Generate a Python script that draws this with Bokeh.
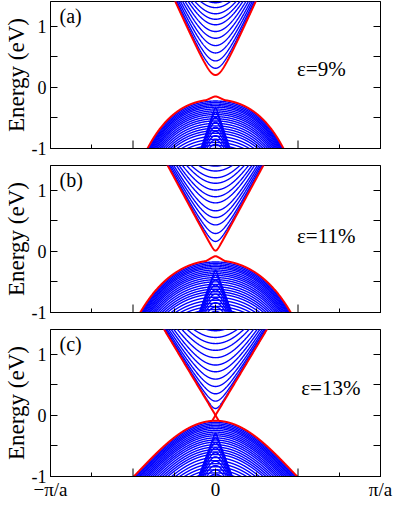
import numpy as np
from bokeh.plotting import figure
from bokeh.models import LinearAxis, FixedTicker, Range1d, Label
from bokeh.layouts import column
from bokeh.embed import file_html
from bokeh.resources import INLINE

# ---------------- data ----------------
panel_tags = ["(a)", "(b)", "(c)"]
strain_text = ["ε=9%", "ε=11%", "ε=13%"]
strain_text_x = [0.494, 0.494, 0.52]      # in units of pi/a
strain_text_y = [0.29, 0.25, 0.445]       # eV (baseline)

x_label_ticks = [-1, 0, 1]
x_tall_ticks = [-0.5, 0, 0.5]
x_short_ticks = [-0.75, -0.25, 0.25, 0.75]
x_tick_labels = {-1: "−π/a", 0: "0", 1: "π/a"}
y_label_ticks = [-1, 0, 1]
y_half_ticks = [-0.5, 0.5]
y_tick_labels = {-1: "-1", 0: "0", 1: "1"}

# conduction sub-band minima at k=0 (eV); first entry = red edge band
cb_min_a = [0.20, 0.31, 0.43, 0.56, 0.68, 0.80, 0.91, 1.02, 1.11, 1.20, 1.30, 1.38, 1.45]
cb_min_b = [0.01, 0.16, 0.29, 0.43, 0.55, 0.66, 0.79, 0.89, 1.00, 1.11, 1.20, 1.31, 1.39]
cb_min_c = [0.00, 0.11, 0.23, 0.35, 0.47, 0.59, 0.71, 0.82, 0.94, 1.06, 1.17, 1.27, 1.38]
cb_offset = [-0.09, -0.05, 0.0]          # asymptote intercept (eV)
cb_slope = [6.0, 5.0, 4.5]               # asymptotic slope (eV per pi/a)
edge_cross = [False, False, True]        # edge states cross at k=0

# valence: broad (outer) bands
vb_top = [-0.20, -0.15, -0.09]
vb_c2 = [3.19, 3.13, 4.62]
vb_c4 = [9.0, 4.6, -3.7]
vb_peak = [-0.15, -0.08, -0.09]
vb_peak_slope = [1.3, 1.6, 0.0]
vb_shift = [0.025, 0.05, 0.075, 0.10, 0.125, 0.155, 0.185, 0.215, 0.245, 0.28,
            0.315, 0.35, 0.39, 0.43, 0.47, 0.51, 0.55, 0.60, 0.65, 0.70, 0.75,
            0.80, 0.85, 0.90]

# valence: steep inner (Lambda-shaped) bands, apex energies at k=0
lam_top = [-0.30, -0.28, -0.27]
lam_slope = [8.0, 7.3, 7.2]
lam_apex = [[-0.33, -0.41, -0.49, -0.57, -0.65, -0.72, -0.79, -0.86, -0.93, -1.0],
            [-0.31, -0.39, -0.47, -0.55, -0.63, -0.70, -0.77, -0.84, -0.91, -0.98],
            [-0.29, -0.37, -0.45, -0.53, -0.61, -0.68, -0.75, -0.82, -0.89, -0.96]]

cb_mins = [cb_min_a, cb_min_b, cb_min_c]

BLUE = "#0000ff"
RED = "#ff0000"
FONT = "Liberation Serif"
FH = 147
Y0, Y1 = -1.0, 1.4

k = np.linspace(-1, 1, 1601)


def make_panel(i, last):
    p = figure(frame_width=330, frame_height=FH, output_backend="svg",
               toolbar_location=None, x_range=Range1d(-1, 1), y_range=Range1d(Y0, Y1),
               min_border_left=40, min_border_right=14, min_border_top=1,
               min_border_bottom=(2 if last else 16))
    p.grid.visible = False
    p.outline_line_color = "black"
    p.outline_line_width = 1
    p.background_fill_color = "white"

    # blue conduction sub-bands
    e0, v = cb_offset[i], cb_slope[i]
    xs, ys = [], []
    for m in cb_mins[i][1:]:
        d = m - e0
        xs.append(k); ys.append(e0 + np.sqrt(d * d + (v * k) ** 2))
    # blue broad valence bands
    broad = vb_top[i] - vb_c2[i] * k ** 2 - vb_c4[i] * k ** 4
    for s in vb_shift:
        xs.append(k); ys.append(broad - s)
    # blue steep valence bands
    for a in lam_apex[i]:
        d = lam_top[i] - a
        xs.append(k); ys.append(lam_top[i] - np.sqrt(d * d + (lam_slope[i] * k) ** 2))
    p.multi_line(xs=xs, ys=ys, line_color=BLUE, line_width=1.4)

    # red edge bands
    rx, ry = [], []
    if edge_cross[i]:
        kk = np.linspace(-0.35, 0.02, 200)
        rx.append(kk); ry.append(-v * kk)
        kk = np.linspace(-0.02, 0.35, 200)
        rx.append(kk); ry.append(v * kk)
        rx.append(k); ry.append(broad)
    else:
        d = cb_mins[i][0] - e0
        rx.append(k); ry.append(e0 + np.sqrt(d * d + (v * k) ** 2))
        r = 0.012
        bump = vb_peak[i] + r - np.sqrt(r * r + (vb_peak_slope[i] * k) ** 2)
        top = np.where(np.abs(k) < 0.08, np.maximum(broad, bump), broad)
        rx.append(k); ry.append(top)
    p.multi_line(xs=rx, ys=ry, line_color=RED, line_width=2)

    # tall inward x ticks (pi/2 multiples) drawn as short segments of 8 px
    tall = [t for t in x_tall_ticks if not (last and t in x_label_ticks)]
    tick_len = 8 * (Y1 - Y0) / FH
    p.segment(x0=tall, y0=[Y0] * len(tall), x1=tall, y1=[Y0 + tick_len] * len(tall),
              line_color="black", line_width=1)

    # bottom axis
    xa = p.xaxis[0]
    xa.axis_line_color = "black"
    xa.minor_tick_in = 4; xa.minor_tick_out = 0
    xa.major_tick_in = 8; xa.major_tick_out = 0
    if last:
        xa.ticker = FixedTicker(ticks=x_label_ticks, minor_ticks=x_short_ticks)
        xa.major_label_overrides = x_tick_labels
        xa.major_label_text_font = FONT
        xa.major_label_text_font_size = "19px"
        xa.major_label_text_color = "black"
        xa.major_label_standoff = 2
    else:
        xa.ticker = FixedTicker(ticks=[], minor_ticks=x_short_ticks)
        xa.major_label_standoff = 0

    # left axis
    ya = p.yaxis[0]
    ya.ticker = FixedTicker(ticks=y_label_ticks, minor_ticks=y_half_ticks)
    ya.major_label_overrides = y_tick_labels
    ya.major_tick_in = 7; ya.major_tick_out = 0
    ya.minor_tick_in = 7; ya.minor_tick_out = 0
    ya.major_label_text_font = FONT
    ya.major_label_text_font_size = "18px"
    ya.major_label_text_color = "black"
    ya.major_label_standoff = 4
    ya.axis_label = "Energy (eV)"
    ya.axis_label_text_font = FONT
    ya.axis_label_text_font_style = "normal"
    ya.axis_label_text_font_size = "23px"
    ya.axis_label_text_color = "black"
    ya.axis_label_standoff = 0

    # right axis: ticks only
    ra = LinearAxis(ticker=FixedTicker(ticks=[], minor_ticks=y_label_ticks + y_half_ticks))
    ra.major_tick_in = 7; ra.major_tick_out = 0
    ra.minor_tick_in = 7; ra.minor_tick_out = 0
    ra.major_label_standoff = 0
    p.add_layout(ra, "right")

    p.add_layout(Label(x=-1, y=Y1, x_offset=9, y_offset=-3, text=panel_tags[i],
                       text_font=FONT, text_font_size="20px", text_baseline="top",
                       text_color="black"))
    p.add_layout(Label(x=strain_text_x[i], y=strain_text_y[i], text=strain_text[i],
                       text_font=FONT, text_font_size="21px", text_baseline="alphabetic",
                       text_color="black"))
    return p


plots = [make_panel(i, i == 2) for i in range(3)]
layout = column(*plots, spacing=0)
open("out.html", "w").write(file_html(layout, INLINE))
